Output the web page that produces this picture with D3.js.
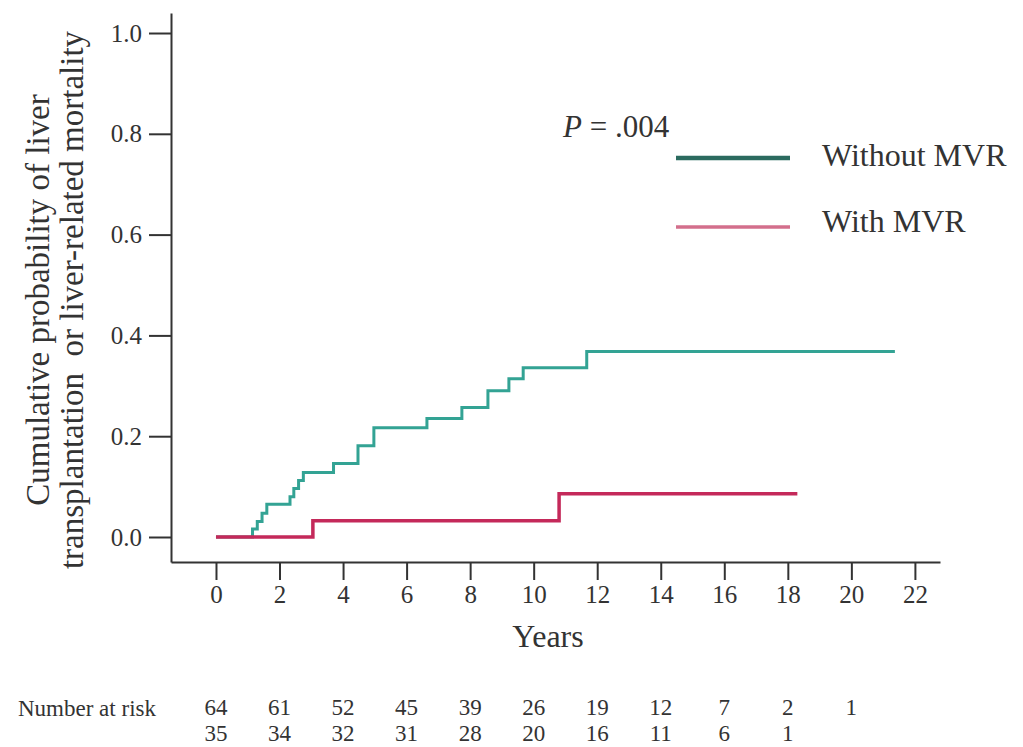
<!DOCTYPE html>
<html>
<head>
<meta charset="utf-8">
<script src="https://cdn.jsdelivr.net/npm/d3@7"></script>
<style>
  body { margin: 0; background: #fff; }
  text { font-family: "Liberation Serif", "DejaVu Serif", serif; fill: #333; }
</style>
</head>
<body>
<script>
const w = 1023;
const h = 747;

// step data (years, cumulative probability)
const withoutTimes = [0, 1.15, 1.3, 1.45, 1.6, 2.33, 2.45, 2.6, 2.75, 3.7, 4.47, 4.97, 6.64, 7.74, 8.56, 9.22, 9.67, 11.67, 21.37];
const withoutProb  = [0, 0.016, 0.031, 0.047, 0.065, 0.08, 0.096, 0.112, 0.128, 0.146, 0.181, 0.217, 0.235, 0.257, 0.29, 0.314, 0.336, 0.368, 0.368];

const withTimes = [0, 3.05, 10.8, 18.3];
const withProb  = [0, 0.032, 0.086, 0.086];

const xTicks = [0, 2, 4, 6, 8, 10, 12, 14, 16, 18, 20, 22];
const yTicks = [0, 0.2, 0.4, 0.6, 0.8, 1.0];

const riskTimes = [0, 2, 4, 6, 8, 10, 12, 14, 16, 18, 20];
const riskWithout = [64, 61, 52, 45, 39, 26, 19, 12, 7, 2, 1];
const riskWith = [35, 34, 32, 31, 28, 20, 16, 11, 6, 1];

const series = [
  { name: "Without MVR", times: withoutTimes, prob: withoutProb, color: "#33a394", legendColor: "#2b6b5f", width: 3, legendWidth: 4.5 },
  { name: "With MVR", times: withTimes, prob: withProb, color: "#c4295a", legendColor: "#d36f8c", width: 3.5, legendWidth: 3.5 }
];

const svg = d3.select("body").append("svg")
  .attr("width", w)
  .attr("height", h);

// scales: axis lines run a bit past the data range
const x = d3.scaleLinear().domain([-1.416, 22.79]).range([171, 940]);
const y = d3.scaleLinear().domain([-0.0496, 1.0397]).range([562, 13]);

const xAxis = svg.append("g")
  .attr("transform", "translate(0,562)")
  .call(d3.axisBottom(x).tickValues(xTicks).tickSize(18).tickSizeOuter(0).tickPadding(5).tickFormat(d3.format("d")));

const yAxis = svg.append("g")
  .attr("transform", "translate(171,0)")
  .call(d3.axisLeft(y).tickValues(yTicks).tickSize(22).tickSizeOuter(0).tickPadding(7).tickFormat(d3.format(".1f")));

[xAxis, yAxis].forEach(a => {
  a.selectAll("path, line").attr("stroke", "#333").attr("stroke-width", 2);
  a.selectAll("text").style("font-family", "Liberation Serif").style("font-size", "25px").attr("fill", "#333");
});

// curves
const line = d3.line()
  .x(d => x(d[0]))
  .y(d => y(d[1]))
  .curve(d3.curveStepAfter);

series.forEach(s => {
  svg.append("path")
    .datum(s.times.map((t, i) => [t, s.prob[i]]))
    .attr("d", line)
    .attr("fill", "none")
    .attr("stroke", s.color)
    .attr("stroke-width", s.width);
});

// legend
svg.append("text")
  .attr("x", 563)
  .attr("y", 137)
  .style("font-size", "31px")
  .html('<tspan font-style="italic">P</tspan> = .004');

const legend = svg.append("g");
series.forEach((s, i) => {
  const ly = 158 + i * 69;
  legend.append("line")
    .attr("x1", 676).attr("x2", 790)
    .attr("y1", ly).attr("y2", ly)
    .attr("stroke", s.legendColor)
    .attr("stroke-width", s.legendWidth);
  legend.append("text")
    .attr("x", 822)
    .attr("y", ly - 3 - i * 3)
    .attr("dy", "0.35em")
    .style("font-size", "32px")
    .text(s.name);
});

// axis titles
svg.append("text")
  .attr("x", 548)
  .attr("y", 647)
  .attr("text-anchor", "middle")
  .style("font-size", "32px")
  .text("Years");

const yTitle = svg.append("text")
  .attr("transform", "translate(0,300) rotate(-90)")
  .attr("text-anchor", "middle")
  .style("font-size", "33px");
yTitle.append("tspan").attr("x", 0).attr("y", 49).text("Cumulative probability of liver");
yTitle.append("tspan").attr("x", 0).attr("y", 83).attr("xml:space", "preserve").text("transplantation  or liver-related mortality");

// number at risk
svg.append("text")
  .attr("x", 18)
  .attr("y", 716)
  .style("font-size", "23px")
  .text("Number at risk");

svg.selectAll(".risk1")
  .data(riskWithout)
  .enter().append("text")
  .attr("x", (d, i) => x(riskTimes[i]))
  .attr("y", 715)
  .attr("text-anchor", "middle")
  .style("font-size", "23px")
  .text(d => d);

svg.selectAll(".risk2")
  .data(riskWith)
  .enter().append("text")
  .attr("x", (d, i) => x(riskTimes[i]))
  .attr("y", 741)
  .attr("text-anchor", "middle")
  .style("font-size", "23px")
  .text(d => d);
</script>
</body>
</html>
